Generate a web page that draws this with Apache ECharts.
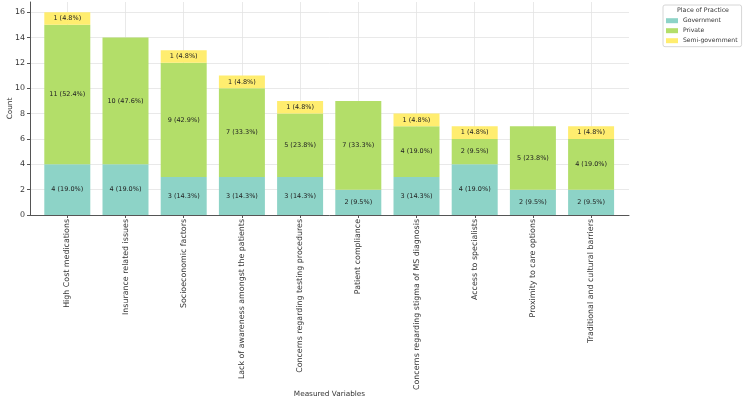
<!DOCTYPE html>
<html>
<head>
<meta charset="utf-8">
<script src="https://cdn.jsdelivr.net/npm/echarts@6/dist/echarts.min.js"></script>
<style>
  html, body { margin: 0; padding: 0; background: #fff; }
  #chart { width: 750px; height: 405px; }
</style>
</head>
<body>
<div id="chart"></div>
<script>
// barriers, counted by place of practice
const categories = [
  'High Cost medications',
  'Insurance related issues',
  'Socioeconomic factors',
  'Lack of awareness amongst the patients',
  'Concerns regarding testing procedures',
  'Patient compliance',
  'Concerns regarding stigma of MS diagnosis',
  'Access to specialists',
  'Proximity to care options',
  'Traditional and cultural barriers'
];
const government = [4, 4, 3, 3, 3, 2, 3, 4, 2, 2];
const privateVals = [11, 10, 9, 7, 5, 7, 4, 2, 5, 4];
const semiGov = [1, 0, 1, 1, 1, 0, 1, 1, 0, 1];
const totalRespondents = 21;
const yTicks = [0, 2, 4, 6, 8, 10, 12, 14, 16];
const xTicks = categories.map((c, i) => i);

const FONT = 'DejaVu Sans';
const GRID_LINE = { show: true, lineStyle: { color: '#e3e3e3', width: 0.8 } };

function seriesFor(name, vals, color) {
  return {
    name: name,
    type: 'bar',
    stack: 'total',
    xAxisIndex: 1,
    yAxisIndex: 1,
    barWidth: 46,
    itemStyle: { color: color },
    label: {
      show: true,
      position: 'inside',
      fontFamily: FONT,
      fontSize: 6.5,
      color: '#222',
      formatter: function (p) {
        const v = p.value;
        if (!v) return '';
        return v + ' (' + (v / totalRespondents * 100).toFixed(1) + '%)';
      }
    },
    data: vals
  };
}

const chart = echarts.init(document.getElementById('chart'));
chart.setOption({
  animation: false,
  grid: [
    // frame: axes, ticks, labels, grid lines
    { left: 30, right: 121, top: 2, bottom: 190, outerBoundsMode: 'none' },
    // bars: one band per category, matching matplotlib spacing
    { left: 38.2, right: 129.8, top: 2, bottom: 190, outerBoundsMode: 'none' }
  ],
  xAxis: [{
    gridIndex: 0,
    type: 'value',
    min: -0.641,
    max: 9.65,
    name: 'Measured Variables',
    nameLocation: 'middle',
    nameGap: 176,
    nameMoveOverlap: false,
    nameTextStyle: { fontFamily: FONT, fontSize: 7.3, color: '#333' },
    axisLine: { show: true, onZero: false, lineStyle: { color: '#555', width: 1 } },
    axisTick: { show: true, customValues: xTicks, length: 3, lineStyle: { color: '#555' } },
    axisLabel: {
      customValues: xTicks,
      rotate: 90,
      fontFamily: FONT,
      fontSize: 7.9,
      color: '#333',
      margin: 4,
      formatter: function (v) { return categories[v]; }
    },
    splitLine: { show: false }
  }, {
    gridIndex: 1,
    type: 'category',
    data: categories,
    axisLine: { show: false },
    axisTick: { show: false, alignWithLabel: true, interval: 0 },
    axisLabel: { show: false, interval: 0 },
    // vertical grid lines through the category centres
    splitLine: { show: true, interval: 0, alignWithLabel: true, lineStyle: GRID_LINE.lineStyle }
  }],
  yAxis: [{
    gridIndex: 0,
    type: 'value',
    min: 0,
    max: 16.8,
    name: 'Count',
    nameLocation: 'middle',
    nameGap: 16,
    nameMoveOverlap: false,
    nameTextStyle: { fontFamily: FONT, fontSize: 7.3, color: '#333' },
    axisLine: { show: true, onZero: false, lineStyle: { color: '#555', width: 1 } },
    axisTick: { show: true, customValues: yTicks, length: 3, lineStyle: { color: '#555' } },
    axisLabel: { customValues: yTicks, fontFamily: FONT, fontSize: 7.9, color: '#333', margin: 5 },
    splitLine: GRID_LINE
  }, {
    gridIndex: 1,
    type: 'value',
    min: 0,
    max: 16.8,
    show: false
  }],
  legend: {
    orient: 'vertical',
    left: 663,
    top: 5,
    padding: [11.7, 4, 2, 3],
    borderColor: '#ccc',
    borderWidth: 0.8,
    borderRadius: 2,
    itemWidth: 12,
    itemHeight: 5,
    itemGap: 2,
    icon: 'rect',
    textStyle: { fontFamily: FONT, fontSize: 6.1, color: '#333', lineHeight: 8 },
    data: ['Government', 'Private', 'Semi-government']
  },
  graphic: [{
    type: 'text',
    x: 703,
    y: 7,
    style: { text: 'Place of Practice', fontFamily: FONT, fontSize: 6.3, fill: '#333', textAlign: 'center' }
  }],
  series: [
    seriesFor('Government', government, '#8dd3c7'),
    seriesFor('Private', privateVals, '#b3de69'),
    seriesFor('Semi-government', semiGov, '#ffed6f')
  ]
});
</script>
</body>
</html>
